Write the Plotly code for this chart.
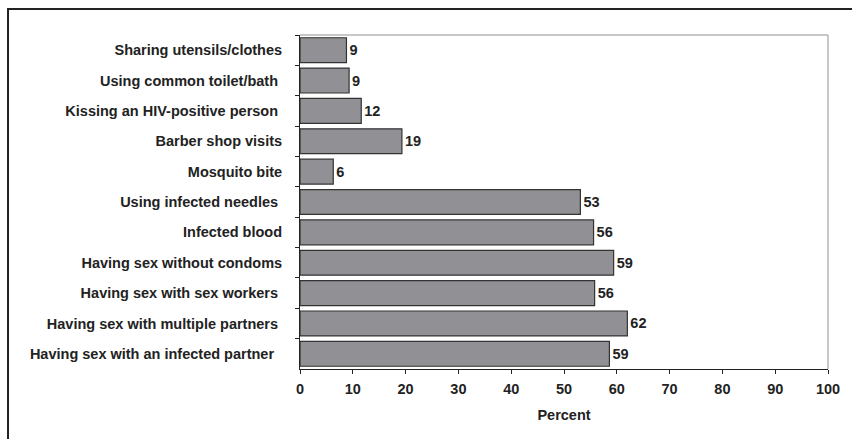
import plotly.graph_objects as go

categories = [
    "Sharing utensils/clothes",
    "Using common toilet/bath\u00a0",
    "Kissing an HIV-positive person\u00a0",
    "Barber shop visits",
    "Mosquito bite",
    "Using infected needles\u00a0",
    "Infected blood",
    "Having sex without condoms",
    "Having sex with sex workers\u00a0",
    "Having sex with multiple partners\u00a0",
    "Having sex with an infected partner\u00a0\u00a0",
]
values = [8.8, 9.3, 11.6, 19.3, 6.3, 53.1, 55.6, 59.4, 55.8, 62.0, 58.6]
labels = ["9", "9", "12", "19", "6", "53", "56", "59", "56", "62", "59"]
x_ticks = [0, 10, 20, 30, 40, 50, 60, 70, 80, 90, 100]

FONT = "Liberation Sans, Arial, sans-serif"
FS = 14.5

fig = go.Figure(
    go.Bar(
        y=categories,
        x=values,
        orientation="h",
        text=labels,
        textposition="outside",
        cliponaxis=False,
        textfont=dict(family=FONT, size=FS, color="#222222", weight="bold"),
        marker=dict(color="#909095", line=dict(color="#333333", width=1.2)),
    )
)

fig.update_layout(
    width=852,
    height=439,
    margin=dict(l=300, r=24, t=35, b=70),
    paper_bgcolor="white",
    plot_bgcolor="white",
    bargap=0.18,
    showlegend=False,
    font=dict(family=FONT, size=FS, color="#222222", weight="bold"),
    shapes=[
        dict(type="rect", xref="paper", yref="paper",
             x0=-0.553, x1=1.3, y0=-0.4, y1=1.0778,
             line=dict(color="#222222", width=2), layer="below"),
        dict(type="line", xref="paper", yref="paper",
             x0=0, x1=1, y0=1, y1=1, line=dict(color="#909090", width=1)),
        dict(type="line", xref="paper", yref="paper",
             x0=1, x1=1, y0=0, y1=1, line=dict(color="#909090", width=1)),
    ],
)

fig.update_xaxes(
    range=[0, 100],
    tickvals=x_ticks,
    ticks="outside",
    ticklen=4,
    tickcolor="#222222",
    showline=True,
    linecolor="#222222",
    linewidth=1,
    showgrid=False,
    zeroline=False,
    ticklabelstandoff=3,
    tickfont=dict(family=FONT, size=FS, color="#222222", weight="bold"),
    title=dict(text="Percent", standoff=13,
               font=dict(family=FONT, size=FS, color="#222222", weight="bold")),
)

fig.update_yaxes(
    autorange="reversed",
    ticks="outside",
    tickson="boundaries",
    ticklen=4,
    tickcolor="#222222",
    showline=True,
    linecolor="#222222",
    linewidth=1,
    showgrid=False,
    ticklabelstandoff=14,
    tickfont=dict(family=FONT, size=FS, color="#222222", weight="bold"),
)

fig.write_html("out.html")
